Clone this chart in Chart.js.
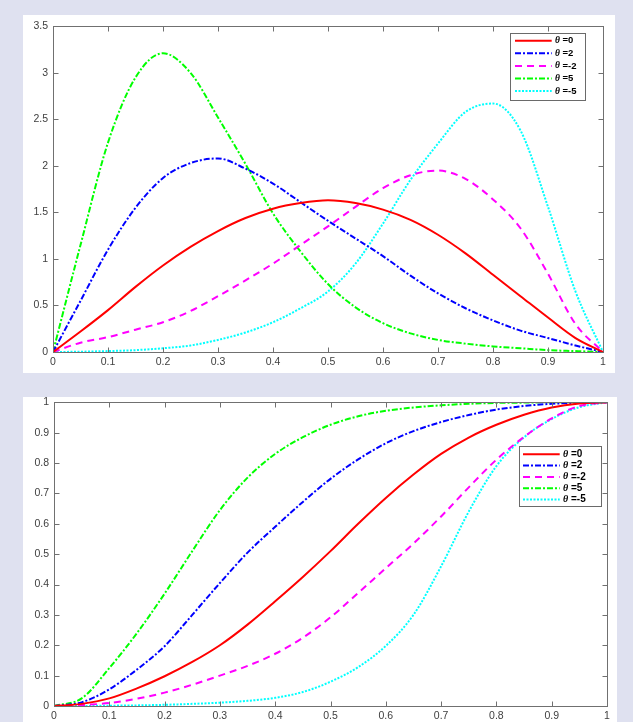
<!DOCTYPE html>
<html>
<head>
<meta charset="utf-8">
<script src="https://cdn.jsdelivr.net/npm/chart.js@4.4.1/dist/chart.umd.min.js"></script>
<style>
  html, body { margin: 0; padding: 0; background: #dfe1f0; width: 633px; height: 722px; overflow: hidden; position: relative; }
  .panel { position: absolute; background: #fff; }
  canvas { position: absolute; }
</style>
</head>
<body>
<div class="panel" style="left:23px;top:15px;width:592px;height:358px"></div>
<div class="panel" style="left:23px;top:397px;width:594px;height:325px"></div>
<canvas id="pdfChart" width="592" height="358" style="left:23px;top:15px"></canvas>
<canvas id="cdfChart" width="592" height="331" style="left:23px;top:391px"></canvas>
<script>
// x grid shared by all curves
const xs = [0, 0.05, 0.1, 0.15, 0.2, 0.25, 0.3, 0.35, 0.4, 0.45, 0.5,
            0.55, 0.6, 0.65, 0.7, 0.75, 0.8, 0.85, 0.9, 0.95, 1];

const thetaLabels = ['θ =0', 'θ =2', 'θ =-2', 'θ =5', 'θ =-5'];

// density curves (top panel)
const pdfTheta0  = [0, 0.22, 0.45, 0.7, 0.93, 1.13, 1.3, 1.44, 1.54, 1.6, 1.63, 1.6, 1.53, 1.42, 1.26, 1.06, 0.83, 0.6, 0.37, 0.15, 0];
const pdfTheta2  = [0, 0.55, 1.1, 1.55, 1.87, 2.03, 2.08, 1.97, 1.81, 1.61, 1.41, 1.22, 1.03, 0.82, 0.63, 0.47, 0.34, 0.23, 0.15, 0.07, 0];
const pdfThetaM2 = [0, 0.1, 0.16, 0.24, 0.32, 0.44, 0.6, 0.77, 0.95, 1.15, 1.35, 1.56, 1.76, 1.9, 1.95, 1.86, 1.64, 1.33, 0.84, 0.3, 0];
const pdfTheta5  = [0, 1.15, 2.25, 2.95, 3.21, 3.0, 2.52, 2.02, 1.49, 1.08, 0.73, 0.48, 0.31, 0.2, 0.13, 0.09, 0.06, 0.04, 0.02, 0.01, 0];
const pdfThetaM5 = [0, 0.003, 0.01, 0.02, 0.04, 0.07, 0.13, 0.21, 0.32, 0.47, 0.65, 0.95, 1.38, 1.85, 2.24, 2.58, 2.67, 2.38, 1.56, 0.65, 0];

// distribution curves (bottom panel)
const cdfTheta0  = [0, 0.007, 0.025, 0.058, 0.098, 0.145, 0.2, 0.268, 0.345, 0.425, 0.51, 0.6, 0.685, 0.762, 0.83, 0.884, 0.926, 0.959, 0.983, 0.996, 1];
const cdfTheta2  = [0, 0.012, 0.055, 0.12, 0.197, 0.3, 0.405, 0.505, 0.59, 0.672, 0.748, 0.812, 0.865, 0.905, 0.935, 0.958, 0.976, 0.988, 0.995, 0.999, 1];
const cdfThetaM2 = [0, 0.003, 0.01, 0.024, 0.044, 0.07, 0.1, 0.132, 0.172, 0.225, 0.292, 0.372, 0.454, 0.535, 0.624, 0.72, 0.811, 0.886, 0.947, 0.988, 1];
const cdfTheta5  = [0, 0.025, 0.125, 0.24, 0.37, 0.51, 0.645, 0.752, 0.83, 0.885, 0.926, 0.954, 0.972, 0.983, 0.99, 0.995, 0.998, 0.999, 1, 1, 1];
const cdfThetaM5 = [0, 0, 0.001, 0.002, 0.004, 0.007, 0.011, 0.017, 0.027, 0.046, 0.08, 0.128, 0.198, 0.3, 0.46, 0.64, 0.79, 0.885, 0.945, 0.984, 1];

const lineColors = ['#ff0000', '#0000ff', '#ff00ff', '#00ff00', '#00ffff'];
const lineDashes = [[], [6, 2, 2, 2], [7, 5], [6, 2, 2, 2], [2, 1.5]];

function makeDatasets(seriesList) {
    return seriesList.map((ys, i) => ({
        label: thetaLabels[i],
        data: xs.map((x, k) => ({ x: x, y: ys[k] })),
        borderColor: lineColors[i],
        borderWidth: 2,
        borderDash: lineDashes[i],
        pointRadius: 0,
        cubicInterpolationMode: 'monotone',
        fill: false
    }));
}

// box around the plot plus inward tick marks on all four sides
const boxAndTicks = {
    id: 'boxAndTicks',
    afterDatasetsDraw(chart) {
        const { ctx, chartArea: a, scales: { x, y } } = chart;
        const L = Math.round(a.left) + 0.5, R = Math.round(a.right) + 0.5;
        const T = Math.round(a.top) + 0.5, B = Math.round(a.bottom) + 0.5;
        ctx.save();
        ctx.strokeStyle = '#707070';
        ctx.lineWidth = 1;
        ctx.setLineDash([]);
        ctx.beginPath();
        x.ticks.forEach(t => {
            const px = Math.round(x.getPixelForValue(t.value)) + 0.5;
            ctx.moveTo(px, B); ctx.lineTo(px, B - 5);
            ctx.moveTo(px, T); ctx.lineTo(px, T + 5);
        });
        y.ticks.forEach(t => {
            const py = Math.round(y.getPixelForValue(t.value)) + 0.5;
            ctx.moveTo(L, py); ctx.lineTo(L + 5, py);
            ctx.moveTo(R, py); ctx.lineTo(R - 5, py);
        });
        ctx.stroke();
        ctx.strokeRect(L, T, R - L, B - T);
        ctx.restore();
    }
};

// legend box drawn inside the axes, MATLAB style
const boxLegend = {
    id: 'boxLegend',
    afterDraw(chart, args, o) {
        const ctx = chart.ctx;
        ctx.save();
        ctx.fillStyle = '#fff';
        ctx.fillRect(o.x, o.y, o.w, o.h);
        ctx.strokeStyle = '#6a6a6a';
        ctx.lineWidth = 1;
        ctx.strokeRect(o.x + 0.5, o.y + 0.5, o.w, o.h);
        chart.data.datasets.forEach((ds, i) => {
            const yy = o.y + o.first + i * o.row;
            ctx.strokeStyle = ds.borderColor;
            ctx.lineWidth = 2;
            ctx.setLineDash(ds.borderDash);
            ctx.beginPath();
            ctx.moveTo(o.x + o.line0, yy);
            ctx.lineTo(o.x + o.line1, yy);
            ctx.stroke();
            ctx.setLineDash([]);
            ctx.fillStyle = '#000';
            ctx.textBaseline = 'middle';
            ctx.textAlign = 'left';
            ctx.font = 'italic bold ' + o.size + 'px "Liberation Serif"';
            const sym = ds.label.slice(0, 1);
            ctx.fillText(sym, o.x + o.text, yy);
            const w = ctx.measureText(sym).width;
            ctx.font = 'bold ' + o.size + 'px "Liberation Sans", Arial';
            ctx.fillText(ds.label.slice(1), o.x + o.text + w, yy);
        });
        ctx.restore();
    }
};

const tickFont = { family: '"Liberation Sans", Arial, sans-serif', size: 10.5 };
const fmt = v => String(+Number(v).toFixed(2));

function axisOptions(yMax, yStep, yWidth, xHeight) {
    return {
        x: {
            type: 'linear', min: 0, max: 1,
            grid: { display: false, drawTicks: false },
            border: { display: false },
            ticks: { stepSize: 0.1, color: '#404040', font: tickFont, padding: 4, maxRotation: 0, autoSkip: false, callback: fmt },
            afterFit: s => { s.height = xHeight; }
        },
        y: {
            type: 'linear', min: 0, max: yMax,
            grid: { display: false, drawTicks: false },
            border: { display: false },
            ticks: { stepSize: yStep, color: '#404040', font: tickFont, padding: 5, autoSkip: false, callback: fmt },
            afterFit: s => { s.width = yWidth; }
        }
    };
}

new Chart(document.getElementById('pdfChart').getContext('2d'), {
    type: 'line',
    data: { datasets: makeDatasets([pdfTheta0, pdfTheta2, pdfThetaM2, pdfTheta5, pdfThetaM5]) },
    options: {
        responsive: false,
        animation: false,
        layout: { padding: { left: 0, right: 12, top: 8, bottom: 0 } },
        scales: axisOptions(3.5, 0.5, 30, 21),
        plugins: {
            legend: { display: false },
            tooltip: { enabled: false },
            boxLegend: { x: 487, y: 18, w: 75, h: 67, first: 7.7, row: 12.6, line0: 5, line1: 41.7, text: 45, size: 9.5 }
        }
    },
    plugins: [boxAndTicks, boxLegend]
});

new Chart(document.getElementById('cdfChart').getContext('2d'), {
    type: 'line',
    data: { datasets: makeDatasets([cdfTheta0, cdfTheta2, cdfThetaM2, cdfTheta5, cdfThetaM5]) },
    options: {
        responsive: false,
        animation: false,
        layout: { padding: { left: 0, right: 8, top: 10, bottom: 0 } },
        scales: axisOptions(1, 0.1, 31, 16),
        plugins: {
            legend: { display: false },
            tooltip: { enabled: false },
            boxLegend: { x: 496, y: 55, w: 82, h: 60, first: 8.3, row: 11.3, line0: 4, line1: 40.7, text: 44, size: 10 }
        }
    },
    plugins: [boxAndTicks, boxLegend]
});
</script>
</body>
</html>
